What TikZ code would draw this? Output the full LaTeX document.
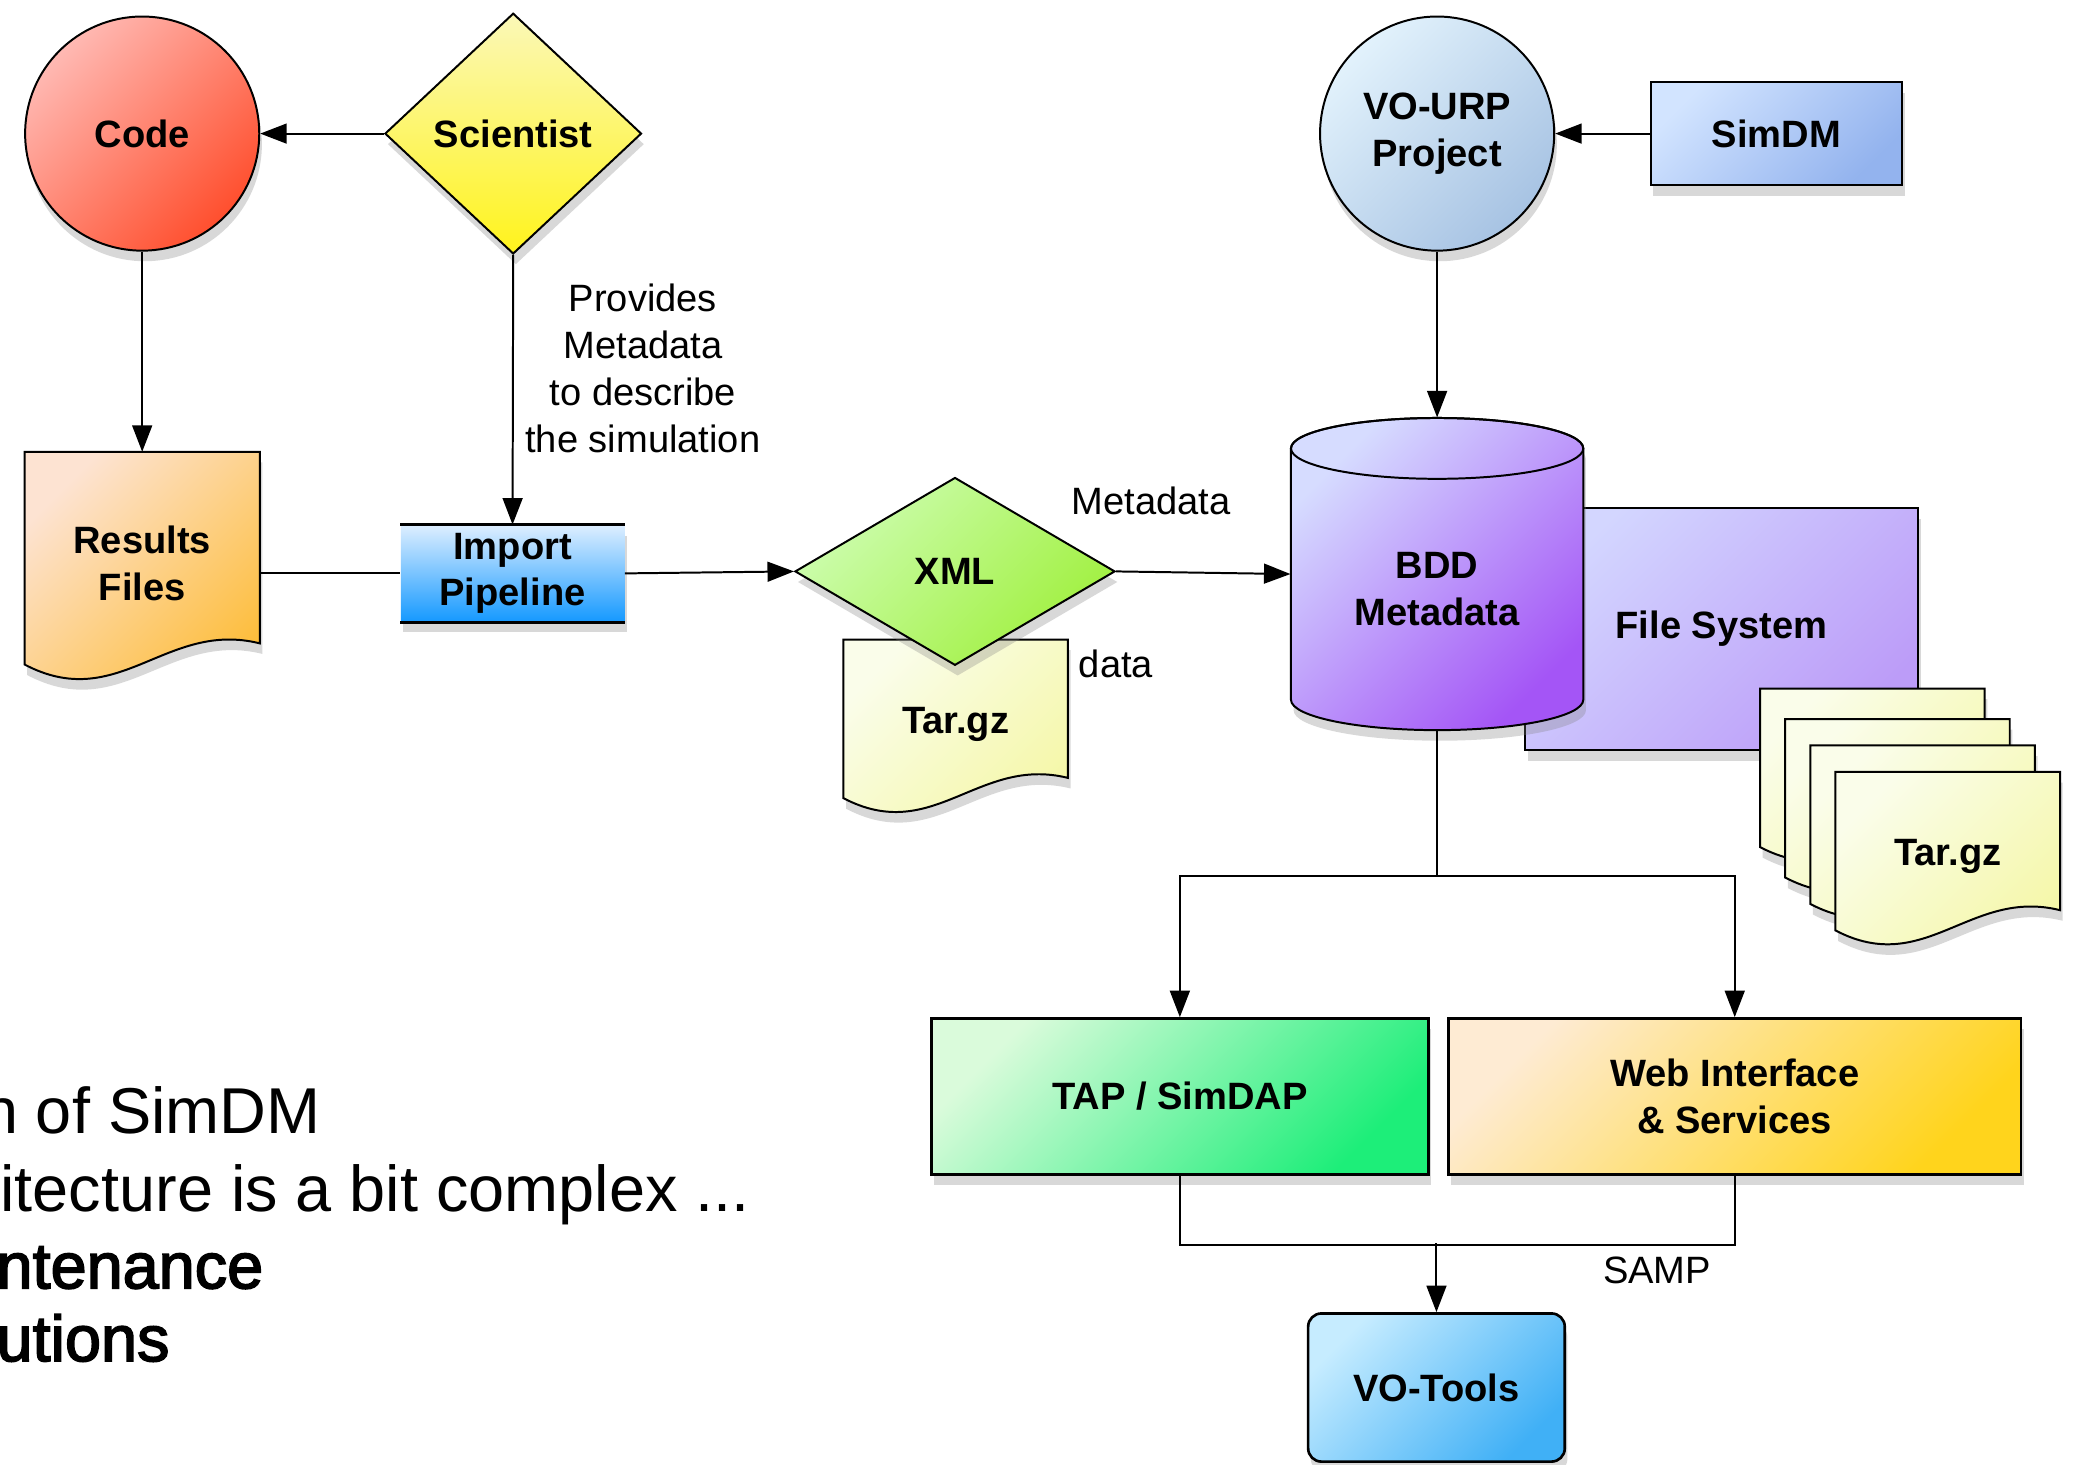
\documentclass[tikz,border=0pt]{standalone}
\usepackage{fontspec}
\setmainfont{Liberation Sans}
\newfontfamily\medfont[FakeBold=2.5]{Liberation Sans}
\usetikzlibrary{arrows.meta,shapes.geometric,shadows,calc}

\definecolor{codeA}{HTML}{FFB9B3}\definecolor{codeB}{HTML}{FF4F2E}
\definecolor{sciA}{HTML}{FBF8B8}\definecolor{sciB}{HTML}{FFF31C}
\definecolor{resA}{HTML}{FDE3D2}\definecolor{resB}{HTML}{FDBD3A}
\definecolor{impA}{HTML}{DDEEFF}\definecolor{impB}{HTML}{1599FF}
\definecolor{xmlA}{HTML}{CDFDB0}\definecolor{xmlB}{HTML}{A0F03E}
\definecolor{tarA}{HTML}{FAFDEA}\definecolor{tarB}{HTML}{F5F7A6}
\definecolor{voA}{HTML}{E2F2FC}\definecolor{voB}{HTML}{A7C3E3}
\definecolor{simA}{HTML}{D2E4FF}\definecolor{simB}{HTML}{93B3EE}
\definecolor{bddA}{HTML}{D6DCFF}\definecolor{bddB}{HTML}{A455F6}
\definecolor{fsA}{HTML}{D3D6FF}\definecolor{fsB}{HTML}{BC9CF8}
\definecolor{tapA}{HTML}{DAFBDB}\definecolor{tapB}{HTML}{1DEE79}
\definecolor{webA}{HTML}{FEEBD3}\definecolor{webB}{HTML}{FFD41C}
\definecolor{toolA}{HTML}{C6ECFF}\definecolor{toolB}{HTML}{40B0F6}

% document shape: name, position, width, height, fill, text
\newcommand\docnode[6]{%
  \path (#2) node[minimum width=#3, minimum height=#4, inner sep=0pt] (#1) {};
  \draw[box, #5] let \p1=(#1.south west), \p2=(#1.north east) in
    (\p1) |- (\p2) -- (\x2,{\y1+0.09*(\x2-\x1)})
    .. controls ({\x2-0.4*(\x2-\x1)},{\y1+0.19*(\x2-\x1)})
    and ({\x1+0.4*(\x2-\x1)},{\y1-0.21*(\x2-\x1)}) .. (\p1) -- cycle;
  \node (#1-txt) at ([yshift=-2pt]#1) {#6};}

\begin{document}
\begin{tikzpicture}[x=0.5pt, y=0.5pt,
  every node/.style={font=\fontsize{14.4pt}{17.6pt}\selectfont\bfseries, align=center},
  shadowed/.style={drop shadow={shadow xshift=1pt, shadow yshift=-4pt, opacity=0.3}},
  box/.style={draw, line width=0.75pt, shadowed},
  grad/.style 2 args={top color=#1, bottom color=#2, shading angle=45},
  vgrad/.style 2 args={top color=#1, bottom color=#2},
  lbl/.style={font=\fontsize{14.4pt}{17.7pt}\selectfont},
  big/.style={font=\fontsize{24.5pt}{29pt}\selectfont, anchor=base west, inner sep=0pt},
  bigb/.style={big, font=\fontsize{24.5pt}{29pt}\medfont},
  wire/.style={line width=0.75pt},
  arr/.style={wire, -{Triangle[length=10pt, width=7.5pt]}}]
\path[use as bounding box, fill=white] (0,0) rectangle (1568,-1107);

% left part
\node[box, circle, grad={codeA}{codeB}, minimum size=88.5pt, inner sep=0pt] (code) at (107.5,-101) {Code};
\node[box, diamond, vgrad={sciA}{sciB}, minimum width=97pt, minimum height=91pt, inner sep=0pt] (sci) at (388,-101) {Scientist};
\docnode{results}{107.5,-422}{88.5pt}{80pt}{grad={resA}{resB}}{Results\\Files}
\node[shadowed, vgrad={impA}{impB}, minimum width=84.5pt, minimum height=36.5pt, inner sep=0pt] (import) at (387.5,-433.5) {Import\\Pipeline};
\draw[line width=1pt] (import.north west) -- (import.north east);
\draw[line width=1pt] (import.south west) -- (import.south east);
\docnode{tar}{722.5,-543.5}{84.5pt}{59.5pt}{grad={tarA}{tarB}}{Tar.gz}
\node[box, diamond, grad={xmlA}{xmlB}, minimum width=121pt, minimum height=71pt, inner sep=0pt] (xml) at (722,-432) {XML};

% right part
\node[box, circle, grad={voA}{voB}, minimum size=88.5pt, inner sep=0pt] (vourp) at (1086.5,-101) {VO-URP\\Project};
\node[box, grad={simA}{simB}, minimum width=95pt, minimum height=39pt] (simdm) at (1343,-101) {SimDM};
\node[box, grad={fsA}{fsB}, minimum width=148.5pt, minimum height=91.5pt] (fs) at (1301.5,-475.5) {File System};
\path[box, grad={bddA}{bddB}] (976,-339) -- (976,-529)
  arc[start angle=180, end angle=360, x radius=55.25pt, y radius=11.5pt] -- (1197,-339)
  arc[start angle=0, end angle=180, x radius=55.25pt, y radius=11.5pt] -- cycle;
\draw[wire] (1086.5,-339) ellipse[x radius=55.25pt, y radius=11.5pt];
\node[minimum width=110.5pt, minimum height=118pt, inner sep=0pt] (bdd) at (1086.5,-434) {};
\node (bdd-txt) at (1086.5,-445.5) {BDD\\Metadata};
\foreach \i/\px/\py in {1/1415.5/-580.5, 2/1434.5/-603.5, 3/1453.5/-623.5}
  \docnode{stack\i}{\px,\py}{84.5pt}{59.5pt}{grad={tarA}{tarB}}{};
\docnode{stack4}{1472.5,-643.5}{84.5pt}{59.5pt}{grad={tarA}{tarB}}{Tar.gz}

\node[box, line width=1pt, grad={tapA}{tapB}, minimum width=188pt, minimum height=59pt] (tap) at (892,-829) {TAP / SimDAP};
\node[box, line width=1pt, grad={webA}{webB}, minimum width=216.5pt, minimum height=59pt] (web) at (1311.5,-829) {Web Interface\\\& Services};
\node[box, line width=1pt, rounded corners=5pt, grad={toolA}{toolB}, minimum width=97pt, minimum height=56pt] (tools) at (1086,-1049) {VO-Tools};

% text of the slide
\node[big] (line1) at (-14,-857) {n of SimDM};
\node[big] (line2) at (0,-916) {itecture is a bit complex ...};
\node[bigb] (line3) at (-3,-974) {ntenance};
\node[bigb] (line4) at (-3,-1029) {utions};

% connectors
\draw[arr] (sci.west) -- (code.east);
\draw[arr] (code.south) -- (results.north);
\draw[arr] (sci.south) -- node[lbl, pos=0.42, right=1pt] (provides) {Provides\\Metadata\\to describe\\the simulation} (import.north);
\draw[wire] (results.east |- import.west) -- (import.west);
\draw[arr] (import.east) -- (xml.west);
\draw[arr] (xml.east) -- node[lbl, pos=0.2, above=18pt] (metalbl) {Metadata}
  node[lbl, pos=0, below=26pt] (datalbl) {data} (bdd.west);
\draw[arr] (simdm.west) -- (vourp.east);
\draw[arr] (vourp.south) -- (bdd.north);
\draw[wire] (bdd.south) -- (1086.5,-662) coordinate (split);
\draw[arr] (split) -| (tap.north);
\draw[arr] (split) -| (web.north);
\draw[wire] (tap.south) -- ++(0,-52) -| node[lbl, pos=0.43, below=1pt] (samplbl) {SAMP} (web.south);
\coordinate (tooljoin) at (1086,-940);
\draw[arr] (tooljoin) -- (tools.north);
\end{tikzpicture}
\end{document}
